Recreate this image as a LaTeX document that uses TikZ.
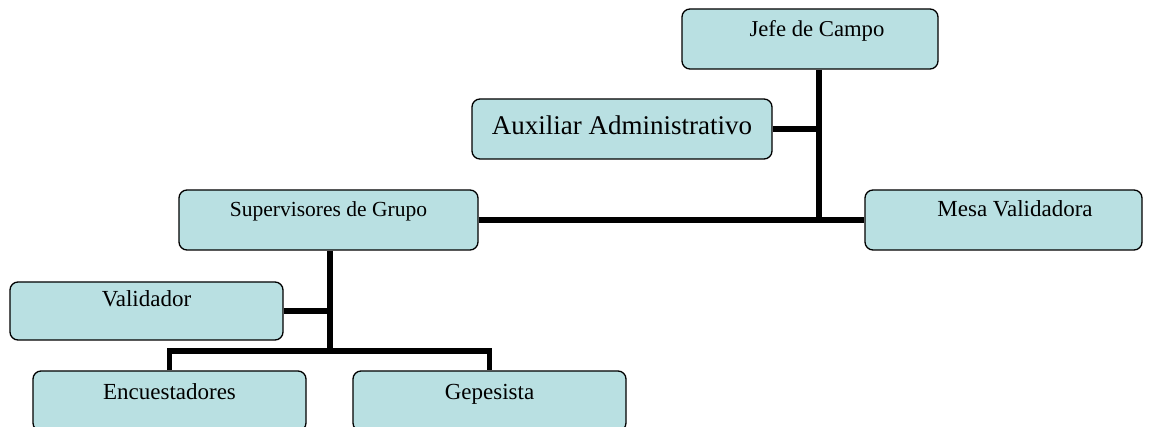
\documentclass[tikz,border=0pt]{standalone}
\usepackage{fontspec}
\setmainfont{Liberation Serif}
\usetikzlibrary{backgrounds}
\definecolor{boxfill}{RGB}{185,224,226}
\tikzset{
  orgbox/.style={draw=black, line width=1.3pt, fill=boxfill, rounded corners=8pt,
    inner xsep=0pt, inner ysep=0pt, align=center, font=\fontsize{23}{26}\selectfont},
  bar/.style={line width=5.5pt, draw=black}
}
\begin{document}
\begin{tikzpicture}[x=1pt,y=-1pt]
\useasboundingbox (0,0) rectangle (1152,427);
\clip (0,0) rectangle (1152,427);
% boxes
\node[orgbox, minimum width=256pt, text height=28pt, text depth=32pt, font=\fontsize{22.7}{26}\selectfont] (jefe) at (810,39) {\hspace*{14pt}Jefe de Campo};
\node[orgbox, minimum width=300pt, text height=36pt, text depth=24pt, font=\fontsize{27}{30}\selectfont] (aux) at (622,129) {Auxiliar Administrativo};
\node[orgbox, minimum width=299pt, text height=27pt, text depth=33pt, font=\fontsize{21.5}{24}\selectfont] (sup) at (328.5,220) {Supervisores de Grupo};
\node[orgbox, minimum width=277pt, text height=27pt, text depth=33pt] (mesa) at (1003.5,220) {\hspace*{23pt}Mesa Validadora};
\node[orgbox, minimum width=273pt, text height=25pt, text depth=33pt] (val) at (146.5,311) {Validador};
\node[orgbox, minimum width=273pt, text height=29pt, text depth=31pt] (enc) at (169.5,401) {Encuestadores};
\node[orgbox, minimum width=273pt, text height=29pt, text depth=31pt] (gep) at (489.5,401) {Gepesista};
% junctions
\coordinate (j) at (819,220);
\coordinate (b) at (330,351);
% connectors
\begin{scope}[on background layer]
\draw[bar] (j |- jefe.south) -- (j);
\draw[bar] (aux.east) -- (aux.east -| j);
\draw[bar] (sup.east) -- (mesa.west);
\draw[bar] (b |- sup.south) -- (b);
\draw[bar] (val.east) -- (val.east -| b);
\draw[bar] (enc.north) |- (b) -| (gep.north);
\end{scope}
\end{tikzpicture}
\end{document}
